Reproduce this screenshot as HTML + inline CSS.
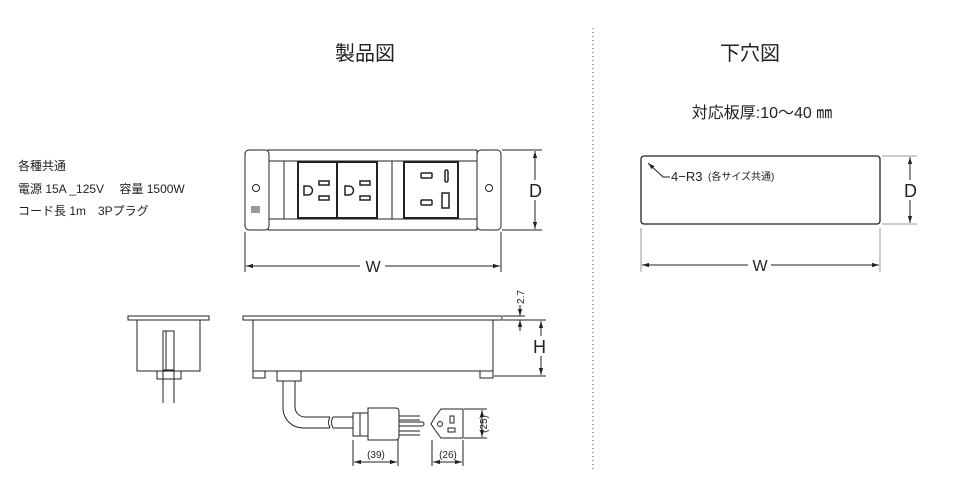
<!DOCTYPE html>
<html><head><meta charset="utf-8"><style>
body{margin:0;background:#fff;}
svg{display:block;font-family:"Liberation Sans","Noto Sans CJK JP",sans-serif;}
</style></head><body>
<svg width="961" height="489" viewBox="0 0 961 489" xmlns="http://www.w3.org/2000/svg">
<defs><marker id="a" viewBox="0 0 10 10" refX="10" refY="5" markerWidth="7" markerHeight="7" orient="auto-start-reverse"><path d="M0,2L10,5L0,8z" fill="#222"/></marker></defs>
<g fill="#222">
<text x="365" y="60" font-size="20" text-anchor="middle">製品図</text>
<text x="750" y="60" font-size="20" text-anchor="middle">下穴図</text>
<text x="762" y="118" font-size="16" text-anchor="middle">対応板厚:10〜40 ㎜</text>
<text x="18" y="170" font-size="12">各種共通</text>
<text x="18" y="193" font-size="12">電源 15A _125V　 容量 1500W</text>
<text x="18" y="215" font-size="12">コード長 1m　3Pプラグ</text>
</g>
<line x1="593" y1="28" x2="593" y2="470" stroke="#444" stroke-dasharray="1,3"/>
<g fill="none" stroke="#222" stroke-width="1">
<rect x="268" y="150" width="209" height="80" fill="none"/>
<line x1="268" y1="161" x2="477" y2="161"/><line x1="268" y1="219" x2="477" y2="219"/>
<rect x="245" y="150" width="24" height="80" rx="4" fill="#fff"/>
<rect x="477" y="150" width="24" height="80" rx="4" fill="#fff"/>
<circle cx="256" cy="188" r="3.5"/><circle cx="489" cy="188" r="3.5"/>
<line x1="284" y1="161" x2="284" y2="219"/>
<line x1="392" y1="161" x2="392" y2="219"/>
<g stroke-width="2"><rect x="298" y="162" width="39" height="56"/><rect x="337" y="162" width="40" height="56"/><rect x="404" y="162" width="54" height="56"/></g>
<line x1="377" y1="161" x2="377" y2="219"/>
<g stroke-width="1.5">
<path d="M304,186h4a4.5,4.5 0 0 1 0,9h-4z"/><rect x="319" y="181" width="10" height="4"/><rect x="319" y="196" width="10" height="4"/>
<path d="M345,186h4a4.5,4.5 0 0 1 0,9h-4z"/><rect x="360" y="181" width="10" height="4"/><rect x="360" y="196" width="10" height="4"/>
<rect x="421" y="173" width="11" height="5" rx="1"/><rect x="421" y="200" width="11" height="5" rx="1"/>
<rect x="445" y="170" width="3" height="12" rx="1.5"/><rect x="442" y="193" width="7" height="15"/>
</g>
<rect x="251" y="206" width="9" height="7" fill="#999" stroke="none"/>
<line x1="502" y1="150" x2="542" y2="150"/><line x1="502" y1="230" x2="542" y2="230"/>
<line x1="535" y1="151" x2="535" y2="180" marker-start="url(#a)"/><line x1="535" y1="200" x2="535" y2="229" marker-end="url(#a)"/>
<line x1="245" y1="232" x2="245" y2="272"/><line x1="501" y1="232" x2="501" y2="272"/>
<line x1="246" y1="266" x2="360" y2="266" marker-start="url(#a)"/><line x1="385" y1="266" x2="500" y2="266" marker-end="url(#a)"/>
<rect x="128" y="316" width="81" height="4"/>
<rect x="137" y="320" width="63" height="51"/>
<rect x="163" y="331" width="11" height="40"/><line x1="166" y1="331" x2="166" y2="371"/>
<path d="M157,371v8h24v-8"/><rect x="163" y="370" width="11" height="9"/>
<line x1="163" y1="379" x2="163" y2="403"/><line x1="174" y1="379" x2="174" y2="403"/>
<rect x="243" y="316" width="259" height="4"/>
<rect x="253" y="320" width="240" height="51"/>
<rect x="253" y="371" width="12" height="7"/><rect x="480" y="371" width="13" height="7"/>
<rect x="277" y="371" width="24" height="10"/>
<path d="M283,381v28a20,20 0 0 0 20,19h27"/><path d="M295,381v26a10,10 0 0 0 10,10h25"/>
<path d="M330,417q-3,5 0,11"/><path d="M333,417q-3,5 0,11"/>
<path d="M333,417h20M333,428h20"/>
<path d="M353,413h15v23h-15z"/><path d="M368,408h28q3,0 3,4v24q0,4 -3,4h-28z"/>
<line x1="360" y1="413" x2="360" y2="436"/>
<path d="M399,416h21M399,420h21M399,431h21M399,435h21"/><path d="M399,422h23a2,2 0 0 1 0,4h-23"/>
<path d="M441,409h22v29h-22l-6,-8l-4,-6l4,-7z"/><circle cx="440" cy="424" r="2.5"/>
<rect x="450" y="416" width="4" height="7"/><rect x="448" y="428" width="7" height="4"/>
<line x1="464" y1="409" x2="487" y2="409"/><line x1="464" y1="438" x2="487" y2="438"/>
<line x1="482" y1="410" x2="482" y2="437" marker-start="url(#a)" marker-end="url(#a)"/>
<line x1="353" y1="440" x2="353" y2="466"/><line x1="398" y1="440" x2="398" y2="466"/>
<line x1="354" y1="462" x2="397" y2="462" marker-start="url(#a)" marker-end="url(#a)"/>
<line x1="432" y1="440" x2="432" y2="466"/><line x1="463" y1="440" x2="463" y2="466"/>
<line x1="433" y1="462" x2="462" y2="462" marker-start="url(#a)" marker-end="url(#a)"/>
<line x1="503" y1="316" x2="525" y2="316"/><line x1="503" y1="320" x2="546" y2="320"/><line x1="494" y1="376" x2="546" y2="376"/>
<line x1="520" y1="305" x2="520" y2="316" marker-end="url(#a)"/><line x1="520" y1="331" x2="520" y2="320" marker-end="url(#a)"/>
<line x1="541" y1="321" x2="541" y2="336" marker-start="url(#a)"/><line x1="541" y1="356" x2="541" y2="375" marker-end="url(#a)"/>
<rect x="641" y="156" width="239" height="68" rx="3" stroke-width="1.3"/>
<path d="M670,177h-7l-15,-14" marker-end="url(#a)"/>
<line x1="882" y1="156" x2="917" y2="156" stroke="#999"/><line x1="882" y1="224" x2="917" y2="224" stroke="#999"/>
<line x1="910" y1="157" x2="910" y2="180" marker-start="url(#a)"/><line x1="910" y1="200" x2="910" y2="223" marker-end="url(#a)"/>
<line x1="641" y1="228" x2="641" y2="272" stroke="#999"/><line x1="880" y1="228" x2="880" y2="272" stroke="#999"/>
<line x1="642" y1="265" x2="748" y2="265" marker-start="url(#a)"/><line x1="771" y1="265" x2="879" y2="265" marker-end="url(#a)"/>
</g>
<g fill="#222">
<text x="529" y="197" font-size="18">D</text>
<text x="373" y="272" font-size="16" text-anchor="middle">W</text>
<text x="376" y="458" font-size="10" text-anchor="middle">(39)</text>
<text x="448" y="458" font-size="10" text-anchor="middle">(26)</text>
<text transform="translate(487,424) rotate(-90)" font-size="10" text-anchor="middle">(25)</text>
<text transform="translate(524,297) rotate(-90)" font-size="10" text-anchor="middle">2.7</text>
<text x="533" y="353" font-size="18">H</text>
<text x="904" y="197" font-size="18">D</text>
<text x="760" y="271" font-size="16" text-anchor="middle">W</text>
<text x="671" y="181" font-size="13">4−R3</text>
<text x="708" y="180" font-size="10">(各サイズ共通)</text>
</g>
</svg>
</body></html>
